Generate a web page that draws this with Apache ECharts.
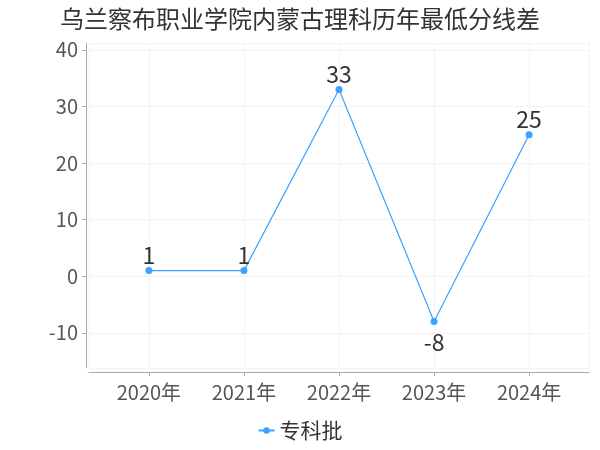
<!DOCTYPE html>
<html><head><meta charset="utf-8">
<script src="https://cdn.jsdelivr.net/npm/echarts@6/dist/echarts.min.js"></script>
<style>html,body{margin:0;padding:0;background:#fff}#c{width:600px;height:450px}</style>
</head><body><div id="c"></div>
<script>
var titleText = '乌兰察布职业学院内蒙古理科历年最低分线差';
var categories = ['2020年', '2021年', '2022年', '2023年', '2024年'];
var seriesName = '专科批';
var values = [1, 1, 33, -8, 25];

var FONT = "'Noto Sans CJK SC', 'DejaVu Sans', sans-serif";
var dataMin = Math.min.apply(null, values), dataMax = Math.max.apply(null, values);
var pad = (dataMax - dataMin) * 0.2;
var points = values.map(function (v, i) {
  return v < 0 ? { value: [i, v], label: { position: 'bottom', distance: 6 } } : { value: [i, v] };
});

var chart = echarts.init(document.getElementById('c'));
chart.setOption({
  animation: false,
  title: { text: titleText, left: 'center', top: 2,
    textStyle: { fontFamily: FONT, fontSize: 24, fontWeight: 'normal', color: '#333' } },
  legend: { bottom: 4, left: 'center', itemWidth: 16, itemHeight: 8, itemGap: 10,
    textStyle: { fontFamily: FONT, fontSize: 21, color: '#333' },
    data: [seriesName] },
  grid: { left: 89, right: 11, top: 43, bottom: 82, containLabel: false },
  xAxis: {
    type: 'value', min: -0.63, max: categories.length - 1 + 0.63, offset: 4,
    axisLine: { show: true, onZero: false, lineStyle: { color: '#aaa' } },
    axisTick: { show: true, length: 4, lineStyle: { color: '#aaa' } },
    axisLabel: { showMinLabel: false, showMaxLabel: false, margin: 10,
      fontFamily: FONT, fontSize: 20, color: '#555',
      formatter: function (v) { return Number.isInteger(v) ? (categories[v] || '') : ''; } },
    splitLine: { show: true, lineStyle: { color: '#f3f3f3' } }
  },
  yAxis: {
    type: 'value', min: dataMin - pad, max: dataMax + pad, offset: 3,
    axisLine: { show: true, onZero: false, lineStyle: { color: '#aaa' } },
    axisTick: { show: true, length: 4, lineStyle: { color: '#aaa' } },
    axisLabel: { showMinLabel: false, showMaxLabel: false, margin: 8,
      fontFamily: FONT, fontSize: 20, color: '#555' },
    splitLine: { show: true, lineStyle: { color: '#f3f3f3' } }
  },
  series: [{
    name: seriesName, type: 'line', data: points,
    symbol: 'circle', symbolSize: 7,
    itemStyle: { color: '#3ca2ff' },
    lineStyle: { width: 1.2, color: '#3ca2ff' },
    label: { show: true, fontFamily: FONT, fontSize: 23, color: '#333', distance: 0,
      position: 'top',
      formatter: function (p) { return p.value[1]; } }
  }]
});
</script></body></html>
